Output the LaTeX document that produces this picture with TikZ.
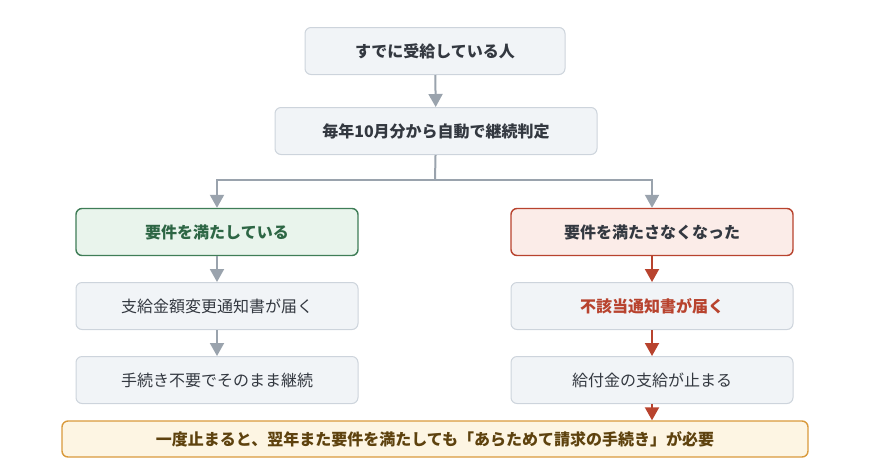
\documentclass[tikz,border=0pt]{standalone}
\usepackage{fontspec}
\setmainfont{Noto Sans CJK JP}
\usetikzlibrary{arrows.meta,positioning}
\definecolor{boxfill}{HTML}{F1F4F7}
\definecolor{boxline}{HTML}{CDD4DC}
\definecolor{arrgray}{HTML}{9AA3AD}
\definecolor{okfill}{HTML}{E9F4EC}
\definecolor{okline}{HTML}{3F7D57}
\definecolor{oktext}{HTML}{2D6644}
\definecolor{ngfill}{HTML}{FBECE8}
\definecolor{ngline}{HTML}{B8432E}
\definecolor{notefill}{HTML}{FDF5E3}
\definecolor{noteline}{HTML}{D99A3C}
\definecolor{notetext}{HTML}{5E420E}
\definecolor{bodytext}{HTML}{333840}

\tikzset{
  box/.style={draw=boxline,fill=boxfill,rounded corners=6pt,line width=1pt,
    minimum height=47pt,text=bodytext,font=\fontsize{16}{18}\selectfont},
  wide/.style={box,minimum width=282pt},
  ok/.style={wide,draw=okline,fill=okfill,text=oktext,line width=1.4pt,font=\bfseries\fontsize{16}{18}\selectfont},
  ng/.style={wide,draw=ngline,fill=ngfill,text=bodytext,line width=1.4pt,font=\bfseries\fontsize{16}{18}\selectfont},
  note/.style={box,draw=noteline,fill=notefill,text=notetext,line width=1.4pt,minimum width=746pt,minimum height=36pt,font=\bfseries\fontsize{16}{18}\selectfont},
  flow/.style={draw=arrgray,line width=2pt,-{Triangle[width=14pt,length=13pt]}},
  ngflow/.style={flow,draw=ngline,-{Triangle[width=14pt,length=13pt]}},
}

\begin{document}
\begin{tikzpicture}[x=1pt,y=-1pt]
\useasboundingbox (0,0) rectangle (870,467);

% top part
\node[box,minimum width=260pt,font=\bfseries\fontsize{16}{18}\selectfont] (start) at (435,51) {すでに受給している人};
\node[box,minimum width=322pt,font=\bfseries\fontsize{16}{18}\selectfont] (judge) at (436,131) {毎年10月分から自動で継続判定};

% left branch
\node[ok] (yes) at (217,232) {要件を満たしている};
\node[wide] (yes1) at (217,306) {支給金額変更通知書が届く};
\node[wide] (yes2) at (217,380) {手続き不要でそのまま継続};

% right branch
\node[ng] (no) at (652,232) {要件を満たさなくなった};
\node[wide,text=ngline,font=\bfseries\fontsize{16}{18}\selectfont] (no1) at (652,306) {不該当通知書が届く};
\node[wide] (no2) at (652,380) {給付金の支給が止まる};

\node[note] (warn) at (435,439) {一度止まると、翌年また要件を満たしても「あらためて請求の手続き」が必要};

\coordinate (split) at (435,180);
\draw[flow] (start) -- (judge);
\draw[draw=arrgray,line width=2pt] (judge) -- (split);
\draw[flow] (split) -| (yes);
\draw[flow] (split) -| (no);
\draw[flow] (yes) -- (yes1);
\draw[flow] (yes1) -- (yes2);
\draw[ngflow] (no) -- (no1);
\draw[ngflow] (no1) -- (no2);
\draw[ngflow] (no2) -- (warn.north -| no2);
\end{tikzpicture}
\end{document}
